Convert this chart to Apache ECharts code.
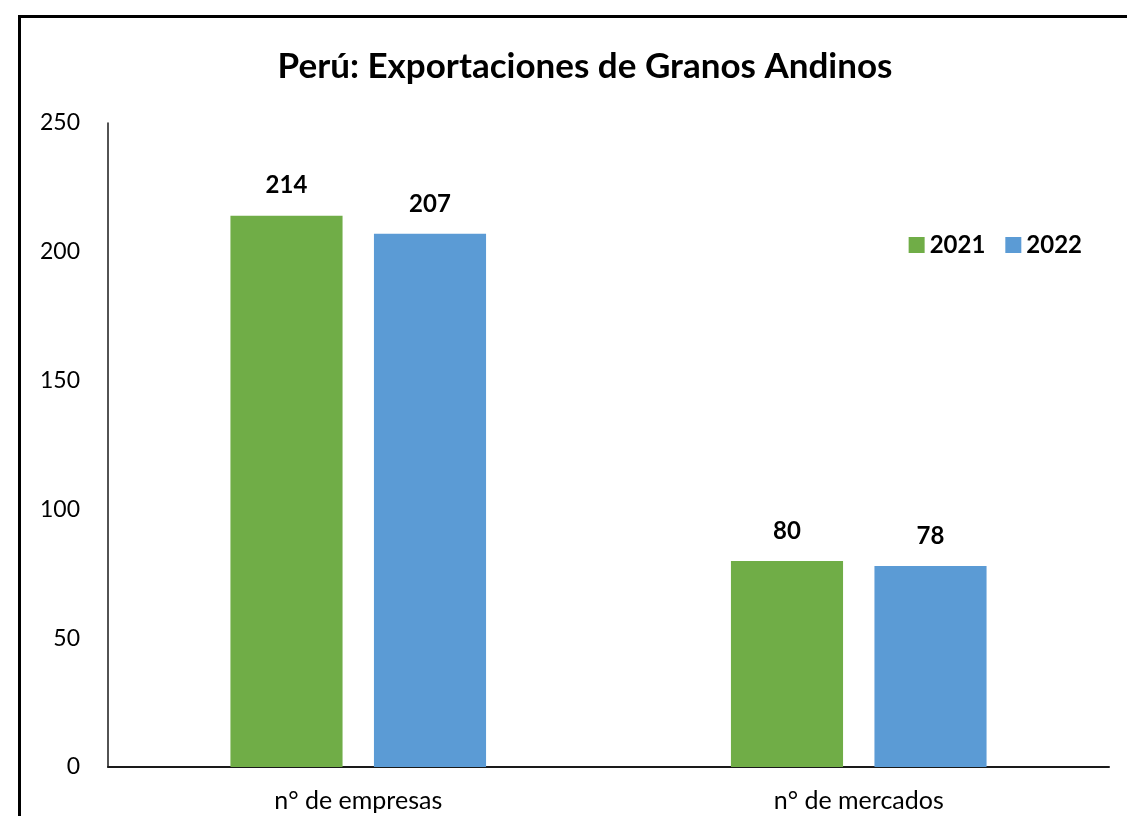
<!DOCTYPE html>
<html>
<head>
<meta charset="utf-8">
<script src="https://cdn.jsdelivr.net/npm/echarts@6/dist/echarts.min.js"></script>
<style>
html,body{margin:0;padding:0;background:#fff;}
#chart{width:1127px;height:816px;}
</style>
</head>
<body>
<div id="chart"></div>
<script>
const categories = ['n° de empresas', 'n° de mercados'];
const series2021 = [214, 80];
const series2022 = [207, 78];
const seriesNames = ['2021', '2022'];
const yTicks = [0, 50, 100, 150, 200, 250];

const chart = echarts.init(document.getElementById('chart'));
const FONT = 'Lato';
chart.setOption({
  animation: false,
  backgroundColor: '#ffffff',
  title: {
    text: 'Perú: Exportaciones de Granos Andinos',
    left: 580, top: 44, textAlign: 'center',
    textStyle: { fontFamily: FONT, fontWeight: 'bold', fontSize: 35, color: '#000' }
  },
  legend: {
    data: seriesNames,
    right: 40, top: 228,
    itemWidth: 16, itemHeight: 16, itemGap: 20,
    icon: 'rect',
    textStyle: { fontFamily: FONT, fontWeight: 'bold', fontSize: 24, color: '#000' }
  },
  graphic: [{
    type: 'polyline',
    shape: { points: [[19.5, 830], [19.5, 16.5], [1140, 16.5]] },
    style: { stroke: '#000', lineWidth: 3, fill: null }
  }],
  grid: { left: 108, right: 18, top: 123, bottom: 49, containLabel: false },
  xAxis: {
    type: 'category',
    data: categories,
    axisLine: { lineStyle: { color: '#1a1a1a', width: 2 } },
    axisTick: { show: false },
    axisLabel: { fontFamily: FONT, fontSize: 25, color: '#000', margin: 21 }
  },
  yAxis: {
    type: 'value',
    min: yTicks[0], max: yTicks[yTicks.length - 1], interval: 50,
    axisLine: { show: true, lineStyle: { color: '#1a1a1a', width: 1.5 } },
    axisTick: { show: false },
    splitLine: { show: false },
    axisLabel: { fontFamily: FONT, fontSize: 23, color: '#000', margin: 28 }
  },
  series: [
    {
      name: seriesNames[0], type: 'bar', data: series2021,
      barWidth: '22.4%', barGap: '28%',
      itemStyle: { color: '#70AD47' },
      label: { show: true, position: 'top', distance: 18, fontFamily: FONT, fontWeight: 'bold', fontSize: 24, color: '#000' }
    },
    {
      name: seriesNames[1], type: 'bar', data: series2022,
      barWidth: '22.4%', barGap: '28%',
      itemStyle: { color: '#5B9BD5' },
      label: { show: true, position: 'top', distance: 18, fontFamily: FONT, fontWeight: 'bold', fontSize: 24, color: '#000' }
    }
  ]
});
</script>
</body>
</html>
